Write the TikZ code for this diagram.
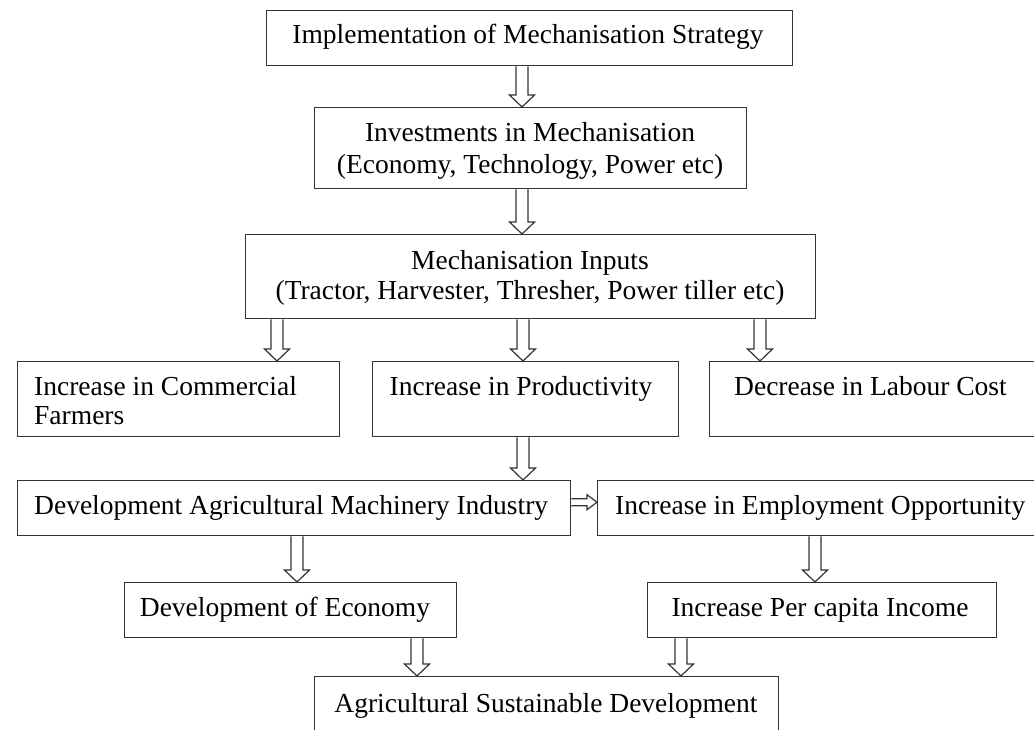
\documentclass[tikz,border=0pt]{standalone}
\usepackage{fontspec}
\setmainfont{Liberation Serif}
\usetikzlibrary{calc}

% hollow block arrow pointing down: x taken from #1, running from y of #1 to y of #2
\newcommand{\hollowdown}[2]{%
  \draw[arrowline] let \p1=#1, \p2=#2 in
    (\x1-6pt,\y1) -- (\x1-6pt,\y2+12pt) -- (\x1-12.5pt,\y2+12pt) -- (\x1,\y2)
    -- (\x1+12.5pt,\y2+12pt) -- (\x1+6pt,\y2+12pt) -- (\x1+6pt,\y1);}

% small hollow block arrow pointing right: y taken from #1, from x of #1 to x of #2
\newcommand{\hollowright}[2]{%
  \draw[arrowline] let \p1=#1, \p2=#2 in
    (\x1,\y1+3.5pt) -- (\x2-10pt,\y1+3.5pt) -- (\x2-10pt,\y1+7.5pt) -- (\x2,\y1)
    -- (\x2-10pt,\y1-7.5pt) -- (\x2-10pt,\y1-3.5pt) -- (\x1,\y1-3.5pt);}

\begin{document}
\begin{tikzpicture}[x=1pt,y=-1pt,
  box/.style={draw=black!80, line width=1.4pt, rectangle, anchor=north west, inner sep=0pt},
  txt/.style={inner sep=0pt, font=\fontsize{27.5}{31}\selectfont, text=black},
  arrowline/.style={draw=black!80, line width=1.2pt, line join=miter}]

\useasboundingbox (0,0) rectangle (1034,730);
\clip (0,0) rectangle (1034,730);
\fill[white] (0,0) rectangle (1034,730);

% boxes
\node[box, minimum width=526pt, minimum height=55pt] (b1) at (265.5,10) {};
\node[box, minimum width=432pt, minimum height=81pt] (b2) at (314,107) {};
\node[box, minimum width=570pt, minimum height=84pt] (b3) at (245,234) {};
\node[box, minimum width=322pt, minimum height=75pt] (bA) at (17,361) {};
\node[box, minimum width=306pt, minimum height=75pt] (bB) at (372,361) {};
\node[box, minimum width=340pt, minimum height=75pt] (bC) at (709,361) {};
\node[box, minimum width=553pt, minimum height=55pt] (bD) at (17,480) {};
\node[box, minimum width=450pt, minimum height=55pt] (bE) at (597,480) {};
\node[box, minimum width=332pt, minimum height=55pt] (bF) at (124,582) {};
\node[box, minimum width=349pt, minimum height=55pt] (bG) at (647,582) {};
\node[box, minimum width=464pt, minimum height=70pt] (bH) at (314,676) {};

% texts
\node[txt, anchor=base] (t1) at (528,44) {Implementation of Mechanisation Strategy};
\node[txt, anchor=base] (t2a) at (530,142) {Investments in Mechanisation};
\node[txt, anchor=base] (t2b) at (530,174) {(Economy, Technology, Power etc)};
\node[txt, anchor=base] (t3a) at (530,270) {Mechanisation Inputs};
\node[txt, anchor=base] (t3b) at (530,300) {(Tractor, Harvester, Thresher, Power tiller etc)};
\node[txt, anchor=base west] (tAa) at (34,395) {Increase in Commercial};
\node[txt, anchor=base west] (tAb) at (34,424) {Farmers};
\node[txt, anchor=base] (tB) at (521,395) {Increase in Productivity};
\node[txt, anchor=base west] (tC) at (734,395) {Decrease in Labour Cost};
\node[txt, anchor=base west] (tD) at (34,514) {Development Agricultural Machinery Industry};
\node[txt, anchor=base west] (tE) at (615,514) {Increase in Employment Opportunity};
\node[txt, anchor=base] (tF) at (285,616) {Development of Economy};
\node[txt, anchor=base] (tG) at (820,616) {Increase Per capita Income};
\node[txt, anchor=base] (tH) at (546,712) {Agricultural Sustainable Development};

% connectors
\hollowdown{([xshift=256.5pt]b1.south west)}{(b2.north)}
\hollowdown{([xshift=208pt]b2.south west)}{(b3.north)}
\hollowdown{([xshift=32pt]b3.south west)}{(bA.north)}
\hollowdown{([xshift=278pt]b3.south west)}{(bB.north)}
\hollowdown{([xshift=515pt]b3.south west)}{(bC.north)}
\hollowdown{([xshift=151pt]bB.south west)}{(bD.north)}
\hollowdown{([xshift=280pt]bD.south west)}{(bF.north)}
\hollowdown{([xshift=218pt]bE.south west)}{(bG.north)}
\hollowdown{([xshift=293pt]bF.south west)}{(bH.north)}
\hollowdown{([xshift=34pt]bG.south west)}{(bH.north)}
\hollowright{([yshift=6pt]bD.east)}{(bE.west)}

\end{tikzpicture}
\end{document}
